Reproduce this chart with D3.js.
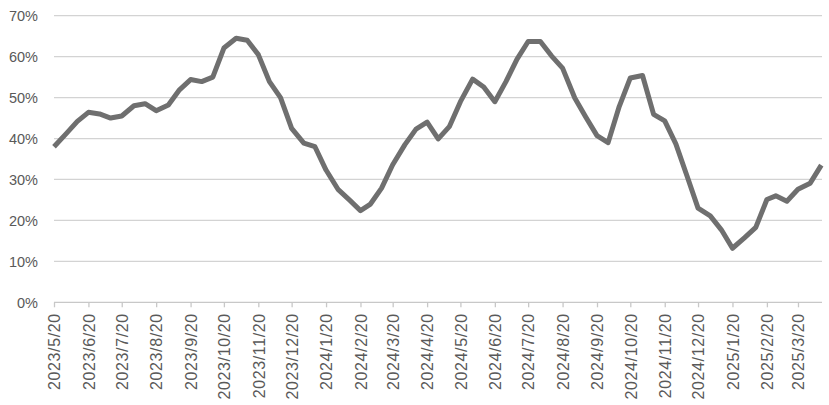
<!DOCTYPE html>
<html>
<head>
<meta charset="utf-8">
<script src="https://cdn.jsdelivr.net/npm/d3@7/dist/d3.min.js"></script>
<style>
  html, body { margin: 0; padding: 0; background: #ffffff; }
  svg { display: block; }
  text { font-family: "Liberation Sans", Arial, sans-serif; fill: #595959; }
</style>
</head>
<body>
<svg id="chart" width="829" height="405"></svg>
<script>
// ---- data ----
const dates = ["2023/5/20","2023/5/31","2023/6/10","2023/6/20","2023/6/30","2023/7/10","2023/7/20","2023/7/31",
  "2023/8/10","2023/8/20","2023/8/31","2023/9/10","2023/9/20","2023/9/30","2023/10/10","2023/10/20","2023/10/31",
  "2023/11/10","2023/11/20","2023/11/30","2023/12/10","2023/12/20","2023/12/31","2024/1/10","2024/1/20","2024/1/31",
  "2024/2/10","2024/2/20","2024/2/29","2024/3/10","2024/3/20","2024/3/31","2024/4/10","2024/4/20","2024/4/30",
  "2024/5/10","2024/5/20","2024/5/31","2024/6/10","2024/6/20","2024/6/30","2024/7/10","2024/7/20","2024/7/31",
  "2024/8/10","2024/8/20","2024/8/31","2024/9/10","2024/9/20","2024/9/30","2024/10/10","2024/10/20","2024/10/31",
  "2024/11/10","2024/11/20","2024/11/30","2024/12/10","2024/12/20","2024/12/31","2025/1/10","2025/1/20","2025/1/31",
  "2025/2/10","2025/2/20","2025/2/28","2025/3/10","2025/3/20","2025/3/31","2025/4/10"];

const values = [38.0, 41.2, 44.2, 46.4, 46.0, 45.0, 45.5, 48.0, 48.5, 46.8, 48.2, 51.9, 54.4, 53.9, 55.0, 62.1,
  64.5, 64.0, 60.5, 53.9, 50.0, 42.5, 38.9, 38.0, 32.3, 27.5, 25.0, 22.4, 24.0, 27.9, 33.6, 38.5, 42.3, 44.0, 39.9,
  42.9, 49.0, 54.5, 52.6, 49.0, 53.9, 59.4, 63.7, 63.7, 60.2, 57.2, 49.9, 45.2, 40.7, 39.0, 47.8, 54.8, 55.4, 45.9,
  44.3, 38.7, 30.9, 23.0, 21.1, 17.7, 13.2, 15.8, 18.3, 25.1, 26.0, 24.7, 27.6, 29.1, 33.5];

const xTickLabels = ["2023/5/20","2023/6/20","2023/7/20","2023/8/20","2023/9/20","2023/10/20","2023/11/20",
  "2023/12/20","2024/1/20","2024/2/20","2024/3/20","2024/4/20","2024/5/20","2024/6/20","2024/7/20","2024/8/20",
  "2024/9/20","2024/10/20","2024/11/20","2024/12/20","2025/1/20","2025/2/20","2025/3/20"];

const yTicks = [0, 10, 20, 30, 40, 50, 60, 70];

// ---- layout ----
(function () {
  const parse = d3.timeParse("%Y/%m/%d");
  const data = dates.map((d, i) => ({ date: parse(d), value: values[i] }));

  const mLeft = 54, mRight = 821.3, mTop = 15.7, mBottom = 302.3;

  const x = d3.scaleTime()
    .domain(d3.extent(data, d => d.date))
    .range([mLeft, mRight]);

  const y = d3.scaleLinear()
    .domain([0, 70])
    .range([mBottom, mTop]);

  const svg = d3.select("#chart");

  // gridlines
  svg.append("g")
    .selectAll("line")
    .data(yTicks.filter(t => t > 0))
    .join("line")
    .attr("x1", mLeft).attr("x2", mRight + 0.7)
    .attr("y1", d => y(d)).attr("y2", d => y(d))
    .attr("stroke", "#d3d3d3")
    .attr("stroke-width", 1.3);

  // y labels
  svg.append("g")
    .selectAll("text")
    .data(yTicks)
    .join("text")
    .attr("x", 38)
    .attr("y", d => y(d))
    .attr("dy", "0.36em")
    .attr("text-anchor", "end")
    .style("font-size", "14.5px")
    .text(d => d + "%");

  // x axis
  const xAxis = d3.axisBottom(x)
    .tickValues(xTickLabels.map(parse))
    .tickFormat((d, i) => xTickLabels[i])
    .tickSizeInner(5)
    .tickSizeOuter(0);

  const gx = svg.append("g")
    .attr("transform", `translate(0,${mBottom})`)
    .call(xAxis);

  gx.select(".domain")
    .attr("d", `M${mLeft},0H${mRight + 0.7}`)
    .attr("stroke", "#c8c8c8")
    .attr("stroke-width", 1.3);
  gx.selectAll(".tick line")
    .attr("stroke", "#c8c8c8")
    .attr("stroke-width", 1.3);
  gx.selectAll(".tick text")
    .attr("transform", "rotate(-90)")
    .attr("x", -11)
    .attr("y", 0)
    .attr("dy", "0.36em")
    .attr("text-anchor", "end")
    .style("font-size", "16px")
    .style("letter-spacing", "0.6px")
    .style("font-family", "'Liberation Sans', Arial, sans-serif")
    .attr("fill", "#595959");

  // line
  const line = d3.line()
    .x(d => x(d.date))
    .y(d => y(d.value));

  svg.append("path")
    .datum(data)
    .attr("fill", "none")
    .attr("stroke", "#6f6f6f")
    .attr("stroke-width", 5)
    .attr("stroke-linejoin", "round")
    .attr("stroke-linecap", "butt")
    .attr("d", line);
})();
</script>
</body>
</html>
